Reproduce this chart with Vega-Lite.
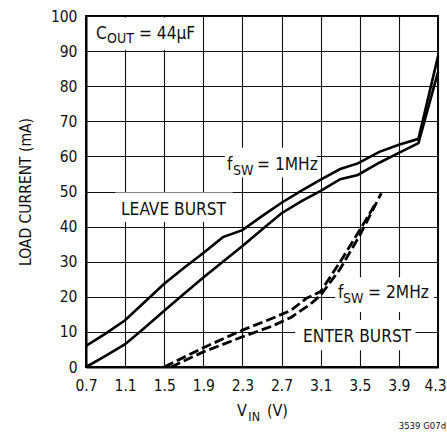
{
  "$schema": "https://vega.github.io/schema/vega-lite/v6.json",
  "width": 352,
  "height": 351,
  "autosize": {"type": "none"},
  "padding": {"left": 86, "top": 16, "right": 9, "bottom": 67},
  "background": "white",
  "config": {
    "font": "'Liberation Sans Narrow', 'DejaVu Sans Condensed', 'Arial Narrow', sans-serif",
    "view": {"stroke": "#000", "strokeWidth": 2},
    "axis": {
      "labelColor": "#111",
      "titleColor": "#111",
      "labelFontSize": 15.5,
      "tickSize": 0,
      "grid": true,
      "gridColor": "#111",
      "gridWidth": 1.1,
      "domainColor": "#000",
      "domainWidth": 2,
      "labelOverlap": false,
      "labelFlush": false
    }
  },
  "datasets": {
    "curves": [
      {"series": "leave_upper", "style": "solid", "x": 0.7, "y": 6},
      {"series": "leave_upper", "style": "solid", "x": 0.9, "y": 9.5},
      {"series": "leave_upper", "style": "solid", "x": 1.1, "y": 13.3},
      {"series": "leave_upper", "style": "solid", "x": 1.3, "y": 18.5},
      {"series": "leave_upper", "style": "solid", "x": 1.5, "y": 23.7},
      {"series": "leave_upper", "style": "solid", "x": 1.7, "y": 28.2},
      {"series": "leave_upper", "style": "solid", "x": 1.9, "y": 32.5},
      {"series": "leave_upper", "style": "solid", "x": 2.1, "y": 37},
      {"series": "leave_upper", "style": "solid", "x": 2.3, "y": 39},
      {"series": "leave_upper", "style": "solid", "x": 2.5, "y": 43},
      {"series": "leave_upper", "style": "solid", "x": 2.7, "y": 46.8},
      {"series": "leave_upper", "style": "solid", "x": 2.9, "y": 50.2},
      {"series": "leave_upper", "style": "solid", "x": 3.1, "y": 53.4},
      {"series": "leave_upper", "style": "solid", "x": 3.3, "y": 56.4},
      {"series": "leave_upper", "style": "solid", "x": 3.48, "y": 58},
      {"series": "leave_upper", "style": "solid", "x": 3.7, "y": 61.3},
      {"series": "leave_upper", "style": "solid", "x": 3.9, "y": 63.3},
      {"series": "leave_upper", "style": "solid", "x": 4.1, "y": 65},
      {"series": "leave_upper", "style": "solid", "x": 4.3, "y": 88.5},
      {"series": "leave_lower", "style": "solid", "x": 0.7, "y": 0},
      {"series": "leave_lower", "style": "solid", "x": 0.9, "y": 3.2},
      {"series": "leave_lower", "style": "solid", "x": 1.1, "y": 6.5},
      {"series": "leave_lower", "style": "solid", "x": 1.3, "y": 11.2},
      {"series": "leave_lower", "style": "solid", "x": 1.5, "y": 16},
      {"series": "leave_lower", "style": "solid", "x": 1.7, "y": 20.8},
      {"series": "leave_lower", "style": "solid", "x": 1.9, "y": 25.5},
      {"series": "leave_lower", "style": "solid", "x": 2.1, "y": 30},
      {"series": "leave_lower", "style": "solid", "x": 2.3, "y": 34.5},
      {"series": "leave_lower", "style": "solid", "x": 2.5, "y": 39.2},
      {"series": "leave_lower", "style": "solid", "x": 2.7, "y": 43.8},
      {"series": "leave_lower", "style": "solid", "x": 2.9, "y": 47.2},
      {"series": "leave_lower", "style": "solid", "x": 3.1, "y": 50.2},
      {"series": "leave_lower", "style": "solid", "x": 3.3, "y": 53.5},
      {"series": "leave_lower", "style": "solid", "x": 3.48, "y": 54.7},
      {"series": "leave_lower", "style": "solid", "x": 3.7, "y": 58.2},
      {"series": "leave_lower", "style": "solid", "x": 3.9, "y": 61},
      {"series": "leave_lower", "style": "solid", "x": 4.1, "y": 63.8},
      {"series": "leave_lower", "style": "solid", "x": 4.3, "y": 84},
      {"series": "enter_left", "style": "dashed", "x": 1.5, "y": 0},
      {"series": "enter_left", "style": "dashed", "x": 1.9, "y": 5.5},
      {"series": "enter_left", "style": "dashed", "x": 2.3, "y": 10.5},
      {"series": "enter_left", "style": "dashed", "x": 2.6, "y": 13.8},
      {"series": "enter_left", "style": "dashed", "x": 2.8, "y": 16.2},
      {"series": "enter_left", "style": "dashed", "x": 2.95, "y": 19.5},
      {"series": "enter_left", "style": "dashed", "x": 3.1, "y": 21.5},
      {"series": "enter_left", "style": "dashed", "x": 3.3, "y": 30},
      {"series": "enter_left", "style": "dashed", "x": 3.5, "y": 39},
      {"series": "enter_left", "style": "dashed", "x": 3.66, "y": 46.5},
      {"series": "enter_right", "style": "dashed", "x": 1.57, "y": 0},
      {"series": "enter_right", "style": "dashed", "x": 1.9, "y": 4.3},
      {"series": "enter_right", "style": "dashed", "x": 2.3, "y": 8.6},
      {"series": "enter_right", "style": "dashed", "x": 2.6, "y": 11.6},
      {"series": "enter_right", "style": "dashed", "x": 2.8, "y": 14.2},
      {"series": "enter_right", "style": "dashed", "x": 3.0, "y": 18},
      {"series": "enter_right", "style": "dashed", "x": 3.1, "y": 20.5},
      {"series": "enter_right", "style": "dashed", "x": 3.3, "y": 28},
      {"series": "enter_right", "style": "dashed", "x": 3.5, "y": 37.5},
      {"series": "enter_right", "style": "dashed", "x": 3.72, "y": 49.5}
    ],
    "boxes": [
      {"x": 0.74, "x2": 1.8, "y": 90.4, "y2": 99.6},
      {"x": 1.0, "x2": 2.2, "y": 41.3, "y2": 49.7},
      {"x": 2.12, "x2": 3.06, "y": 54, "y2": 62.5},
      {"x": 3.25, "x2": 4.26, "y": 15.7, "y2": 25.6},
      {"x": 2.84, "x2": 4.07, "y": 4.8, "y2": 13.4}
    ],
    "big": [
      {"x": 0.802, "y": 93.4, "text": "C"},
      {"x": 1.242, "y": 93.4, "text": "= 44µF"},
      {"x": 2.142, "y": 56.1, "text": "f"},
      {"x": 2.449, "y": 56.1, "text": "= 1MHz"},
      {"x": 3.278, "y": 19.7, "text": "f"},
      {"x": 3.585, "y": 19.7, "text": "= 2MHz"},
      {"x": 1.058, "y": 43.3, "text": "LEAVE BURST"},
      {"x": 2.92, "y": 7.1, "text": "ENTER BURST"}
    ],
    "subs": [
      {"x": 0.915, "y": 92.3, "text": "OUT"},
      {"x": 2.204, "y": 54.7, "text": "SW"},
      {"x": 3.329, "y": 18.2, "text": "SW"}
    ],
    "xtitle": [
      {"x": 2.245, "y": -13.96, "text": "V"},
      {"x": 2.55, "y": -13.96, "text": "(V)"}
    ],
    "xtitlesub": [
      {"x": 2.36, "y": -15.4, "text": "IN"}
    ],
    "note": [
      {"x": 4.383, "y": -17.7, "text": "3539 G07d"}
    ]
  },
  "encoding": {
    "x": {"field": "x", "type": "quantitative", "scale": {"domain": [0.7, 4.3], "nice": false, "zero": false},
      "axis": {"values": [0.7, 1.1, 1.5, 1.9, 2.3, 2.7, 3.1, 3.5, 3.9, 4.3], "format": ".1f", "title": null, "labelPadding": 11,
        "labelOffset": {"condition": {"test": "datum.value > 4.25", "value": -3}, "value": 0}}},
    "y": {"field": "y", "type": "quantitative", "scale": {"domain": [0, 100], "nice": false, "zero": false},
      "axis": {"values": [0, 10, 20, 30, 40, 50, 60, 70, 80, 90, 100], "labelPadding": 9, "title": "LOAD CURRENT (mA)",
        "titleFontSize": 15.5, "titleFontWeight": "normal", "titleAngle": 270, "titleX": -56, "titleY": 175.5,
        "titleBaseline": "alphabetic", "titleAlign": "center"}}
  },
  "layer": [
    {
      "data": {"name": "boxes"},
      "mark": {"type": "rect", "fill": "white", "stroke": null},
      "encoding": {
        "x2": {"field": "x2"},
        "y2": {"field": "y2"}
      }
    },
    {
      "data": {"name": "curves"},
      "transform": [{"filter": "datum.style === 'solid'"}],
      "mark": {"type": "line", "color": "#000", "strokeWidth": 2.6},
      "encoding": {
        "detail": {"field": "series", "type": "nominal"}
      }
    },
    {
      "data": {"name": "curves"},
      "transform": [{"filter": "datum.style === 'dashed'"}],
      "mark": {"type": "line", "color": "#000", "strokeWidth": 2.8, "strokeDash": [10, 4], "strokeCap": "butt"},
      "encoding": {
        "detail": {"field": "series", "type": "nominal"}
      }
    },
    {
      "data": {"name": "big"},
      "mark": {"type": "text", "align": "left", "baseline": "alphabetic", "fontSize": 17.2, "color": "#111"},
      "encoding": {"text": {"field": "text"}}
    },
    {
      "data": {"name": "subs"},
      "mark": {"type": "text", "align": "left", "baseline": "alphabetic", "fontSize": 14, "color": "#111"},
      "encoding": {"text": {"field": "text"}}
    },
    {
      "data": {"name": "xtitle"},
      "mark": {"type": "text", "align": "left", "baseline": "alphabetic", "fontSize": 16, "color": "#111"},
      "encoding": {"text": {"field": "text"}}
    },
    {
      "data": {"name": "xtitlesub"},
      "mark": {"type": "text", "align": "left", "baseline": "alphabetic", "fontSize": 12.5, "color": "#111"},
      "encoding": {"text": {"field": "text"}}
    },
    {
      "data": {"name": "note"},
      "mark": {"type": "text", "align": "right", "baseline": "alphabetic", "fontSize": 9.5, "color": "#111"},
      "encoding": {"text": {"field": "text"}}
    }
  ]
}
